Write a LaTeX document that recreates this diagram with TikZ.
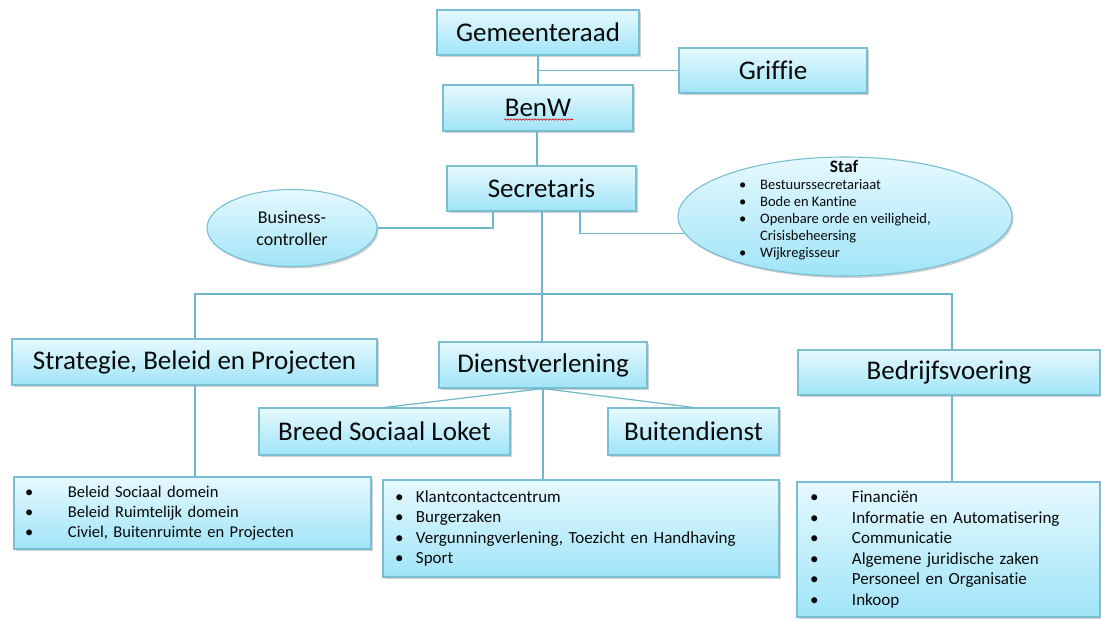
\documentclass[tikz,border=0pt]{standalone}
\usepackage{fontspec}
\setmainfont{Carlito}[Ligatures=NoCommon]
\usetikzlibrary{shapes.geometric,shadows,calc,decorations.pathmorphing}
\definecolor{edgec}{RGB}{121,190,210}
\definecolor{wirec}{RGB}{110,182,204}
\definecolor{topc}{RGB}{230,249,254}
\definecolor{botc}{RGB}{160,228,248}
\definecolor{ink}{RGB}{10,10,10}
\newcommand\bl[1]{\makebox[#1][l]{\textbullet}}
\begin{document}
\begin{tikzpicture}[x=1pt,y=-1pt,
  box/.style={rectangle, draw=edgec, line width=1.1pt, top color=topc, bottom color=botc,
    drop shadow={shadow xshift=1.5pt, shadow yshift=-2pt, opacity=0.3, fill=black!60},
    text=ink, inner sep=0pt},
  title/.style={box, font=\fontsize{27}{32}\selectfont},
  listbox/.style={box, align=left},
  oval/.style={ellipse, draw=edgec, line width=1.1pt, top color=topc, bottom color=botc,
    drop shadow={shadow xshift=1.5pt, shadow yshift=-2pt, opacity=0.3, fill=black!60},
    text=ink, inner sep=0pt},
  wire/.style={draw=wirec, line width=1.2pt}]
\useasboundingbox (0,0) rectangle (1101,619);

% top chain
\node[title, minimum width=202pt, minimum height=45pt] (gem) at (538,32.5) {Gemeenteraad};
\node[title, minimum width=188pt, minimum height=45pt] (grif) at (773,70.5) {Griffie};
\node[title, minimum width=190pt, minimum height=46pt] (benw) at (538,108) {BenW};
\node[title, minimum width=189pt, minimum height=45pt] (sec) at (541.5,188.5) {Secretaris};

% side ovals
\node[oval, minimum width=170pt, minimum height=77pt, align=center,
  font=\fontsize{18}{22}\selectfont] (bus) at (292,228) {Business-\\controller};
\node[oval, minimum width=334pt, minimum height=119pt] (staf) at (845,216.5) {};
\node[font=\bfseries\fontsize{17.5}{20}\selectfont, text=ink, inner sep=0pt] (staflbl) at (844,166) {Staf};
\node[anchor=north west, align=left, inner sep=0pt, text=ink,
  font=\fontsize{14.5}{17}\selectfont] (staflist) at (739,179)
  {\bl{21pt}Bestuurssecretariaat\\
   \bl{21pt}Bode en Kantine\\
   \bl{21pt}Openbare orde en veiligheid,\\
   \hspace*{21pt}Crisisbeheersing\\
   \bl{21pt}Wijkregisseur};

% departments
\node[title, minimum width=365pt, minimum height=46pt] (strat) at (194.5,362) {Strategie, Beleid en Projecten};
\node[title, minimum width=208pt, minimum height=46pt] (dienst) at (543,365) {Dienstverlening};
\node[title, minimum width=302pt, minimum height=45pt] (bedr) at (949,372.5) {Bedrijfsvoering};
\node[title, minimum width=251pt, minimum height=47pt] (breed) at (384.5,431.5) {Breed Sociaal Loket};
\node[title, minimum width=171pt, minimum height=47pt] (buiten) at (693.5,431.5) {Buitendienst};

% lists
\node[listbox, minimum width=357pt, minimum height=72pt, text width=335pt, inner xsep=11pt,
  font=\fontsize{16.5}{20}\selectfont] (llist) at (192.5,513)
  {\bl{43pt}Beleid Sociaal domein\\
   \bl{43pt}Beleid Ruimtelijk domein\\
   \bl{43pt}Civiel, Buitenruimte en Projecten};
\node[listbox, minimum width=396pt, minimum height=97pt, text width=372pt, inner xsep=12pt,
  font=\fontsize{17}{20.6}\selectfont] (mlist) at (581,528.5)
  {\bl{21pt}Klantcontactcentrum\\
   \bl{21pt}Burgerzaken\\
   \bl{21pt}Vergunningverlening, Toezicht en Handhaving\\
   \bl{21pt}Sport};
\node[listbox, minimum width=303pt, minimum height=135pt, text width=277pt, inner xsep=13pt,
  font=\fontsize{17}{20.6}\selectfont] (rlist) at (948.5,549.5)
  {\bl{42pt}Financiën\\
   \bl{42pt}Informatie en Automatisering\\
   \bl{42pt}Communicatie\\
   \bl{42pt}Algemene juridische zaken\\
   \bl{42pt}Personeel en Organisatie\\
   \bl{42pt}Inkoop};

% spell-check underline
\draw[red!85!black, line width=0.6pt, decorate, decoration={snake, amplitude=0.7pt, segment length=3pt}]
  ($(benw.center)+(-34,11.5)$) -- ($(benw.center)+(35,11.5)$);

% connector points
\coordinate (s1) at (493,211);
\coordinate (s2) at (542,211);
\coordinate (s3) at (580,211);
\coordinate (hl) at (195,294);
\coordinate (hr) at (952,294);

% connectors
\path[wire] (gem.south) -- (benw.north);
\path[wire] (grif.west) -- (grif.west -| gem.south);
\path[wire] ([xshift=-1pt]benw.south) -- ([xshift=-1pt]benw.south |- sec.north);
\path[wire] (s1) |- (bus.east);
\path[wire] (s3) |- (staf.186);
\path[wire] (s2) -- (s2 |- dienst.north);
\path[wire] (strat.north -| hl) -- (hl) -- (hr) -- (hr |- bedr.north);
\path[wire] (strat.south -| hl) -- (llist.north -| hl);
\path[wire] (dienst.south) -- (dienst.south |- mlist.north);
\path[wire] (dienst.south) -- (breed.north);
\path[wire] (dienst.south) -- (buiten.north);
\path[wire] (bedr.south -| hr) -- (rlist.north -| hr);
\end{tikzpicture}
\end{document}
